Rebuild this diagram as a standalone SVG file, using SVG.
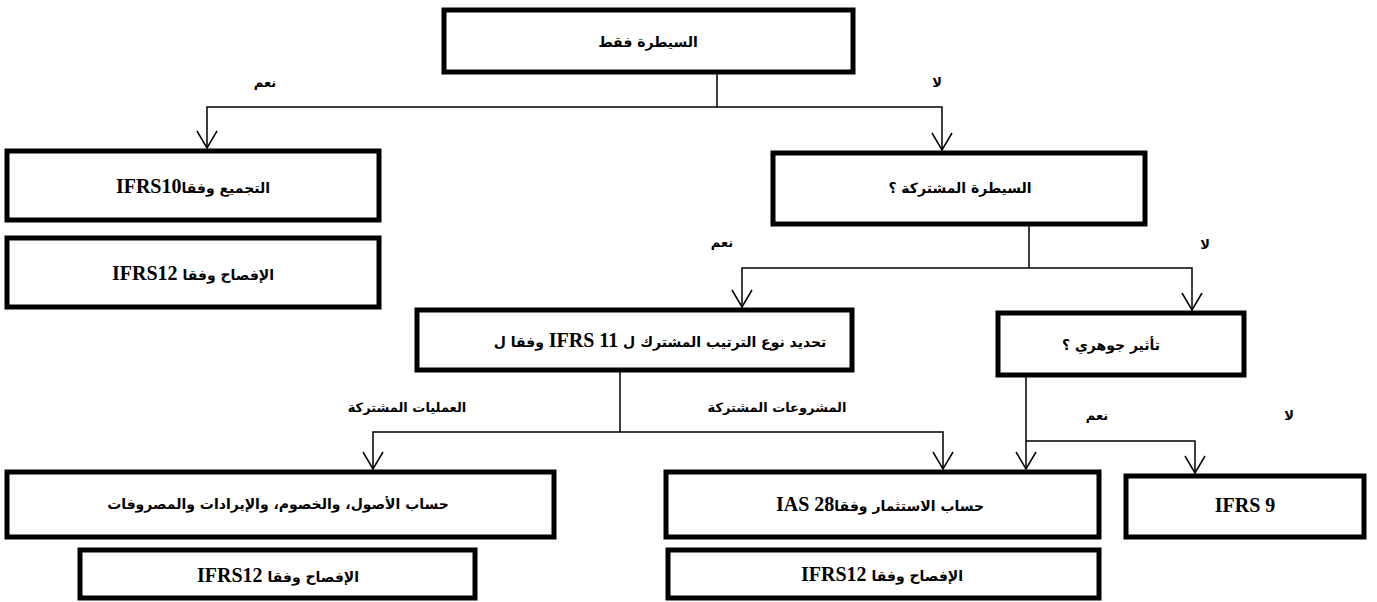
<svg xmlns="http://www.w3.org/2000/svg" width="1377" height="602" viewBox="0 0 1377 602">
<style>
.box{fill:#fff;stroke:#000;stroke-width:5}
.con{fill:none;stroke:#000;stroke-width:1.5}
.t{font-family:"DejaVu Sans","Liberation Serif",sans-serif;font-weight:bold;font-size:14px;fill:#000;text-anchor:middle;direction:rtl}
.lat{font-family:"Liberation Serif",serif;font-weight:bold;font-size:20px}
.lbl{font-family:"DejaVu Sans",sans-serif;font-weight:bold;font-size:13px;fill:#000;text-anchor:middle;direction:rtl}
</style>
<defs>
<marker id="arr" markerUnits="userSpaceOnUse" orient="auto" refX="0" refY="0" markerWidth="40" markerHeight="40" viewBox="-20 -20 40 40" overflow="visible">
<path d="M-17,-10 L0,0 L-17,10" fill="none" stroke="#000" stroke-width="1.5"/>
</marker>
</defs>
<rect width="1377" height="602" fill="#fff"/>
<g id="connectors">
<path class="con" d="M717,72 V107"/>
<path class="con" d="M717,107 H207 V148" marker-end="url(#arr)"/>
<path class="con" d="M717,107 H942 V150" marker-end="url(#arr)"/>
<path class="con" d="M1029,225 V268"/>
<path class="con" d="M1029,268 H742 V307" marker-end="url(#arr)"/>
<path class="con" d="M1029,268 H1192 V310" marker-end="url(#arr)"/>
<path class="con" d="M620,370 V432"/>
<path class="con" d="M620,432 H373 V469" marker-end="url(#arr)"/>
<path class="con" d="M620,432 H943 V469" marker-end="url(#arr)"/>
<path class="con" d="M1026,376 V469" marker-end="url(#arr)"/>
<path class="con" d="M1026,441 H1195 V473" marker-end="url(#arr)"/>
</g>
<g id="labels">
<text class="lbl" x="265" y="87">نعم</text>
<text class="lbl" x="937" y="87">لا</text>
<text class="lbl" x="722" y="247">نعم</text>
<text class="lbl" x="1205" y="249">لا</text>
<text class="lbl" x="407" y="412">العمليات المشتركة</text>
<text class="lbl" x="777" y="412">المشروعات المشتركة</text>
<text class="lbl" x="1097" y="420">نعم</text>
<text class="lbl" x="1289" y="420">لا</text>
</g>
<g id="n1"><rect class="box" x="444" y="10" width="409" height="62"/><text class="t" x="648" y="47">السيطرة فقط</text></g>
<g id="n2"><rect class="box" x="7" y="151" width="372" height="69"/><text class="t" x="193" y="193">التجميع وفقا<tspan class="lat">IFRS10</tspan></text></g>
<g id="n3"><rect class="box" x="7" y="238" width="372" height="69"/><text class="t" x="193" y="280">الإفصاح وفقا <tspan class="lat">IFRS12</tspan></text></g>
<g id="n4"><rect class="box" x="773" y="153" width="372" height="71"/><text class="t" x="960" y="193">السيطرة المشتركة ؟</text></g>
<g id="n5"><rect class="box" x="417" y="310" width="435" height="60"/><text class="t" x="660" y="347">تحديد نوع الترتيب المشترك ل <tspan class="lat">IFRS 11</tspan> وفقا ل</text></g>
<g id="n6"><rect class="box" x="998" y="313" width="246" height="62"/><text class="t" x="1111" y="350">تأثير جوهري ؟</text></g>
<g id="n7"><rect class="box" x="7" y="472" width="547" height="65"/><text class="t" x="278" y="509">حساب الأصول، والخصوم، والإيرادات والمصروفات</text></g>
<g id="n8"><rect class="box" x="80" y="550" width="395" height="48"/><text class="t" x="278" y="582">الإفصاح وفقا <tspan class="lat">IFRS12</tspan></text></g>
<g id="n9"><rect class="box" x="666" y="472" width="433" height="65"/><text class="t" x="880" y="511">حساب الاستثمار وفقا<tspan class="lat">IAS 28</tspan></text></g>
<g id="n10"><rect class="box" x="668" y="550" width="431" height="48"/><text class="t" x="882" y="581">الإفصاح وفقا <tspan class="lat">IFRS12</tspan></text></g>
<g id="n11"><rect class="box" x="1126" y="476" width="238" height="61"/><text class="t" x="1245" y="512"><tspan class="lat">IFRS 9</tspan></text></g>
</svg>
